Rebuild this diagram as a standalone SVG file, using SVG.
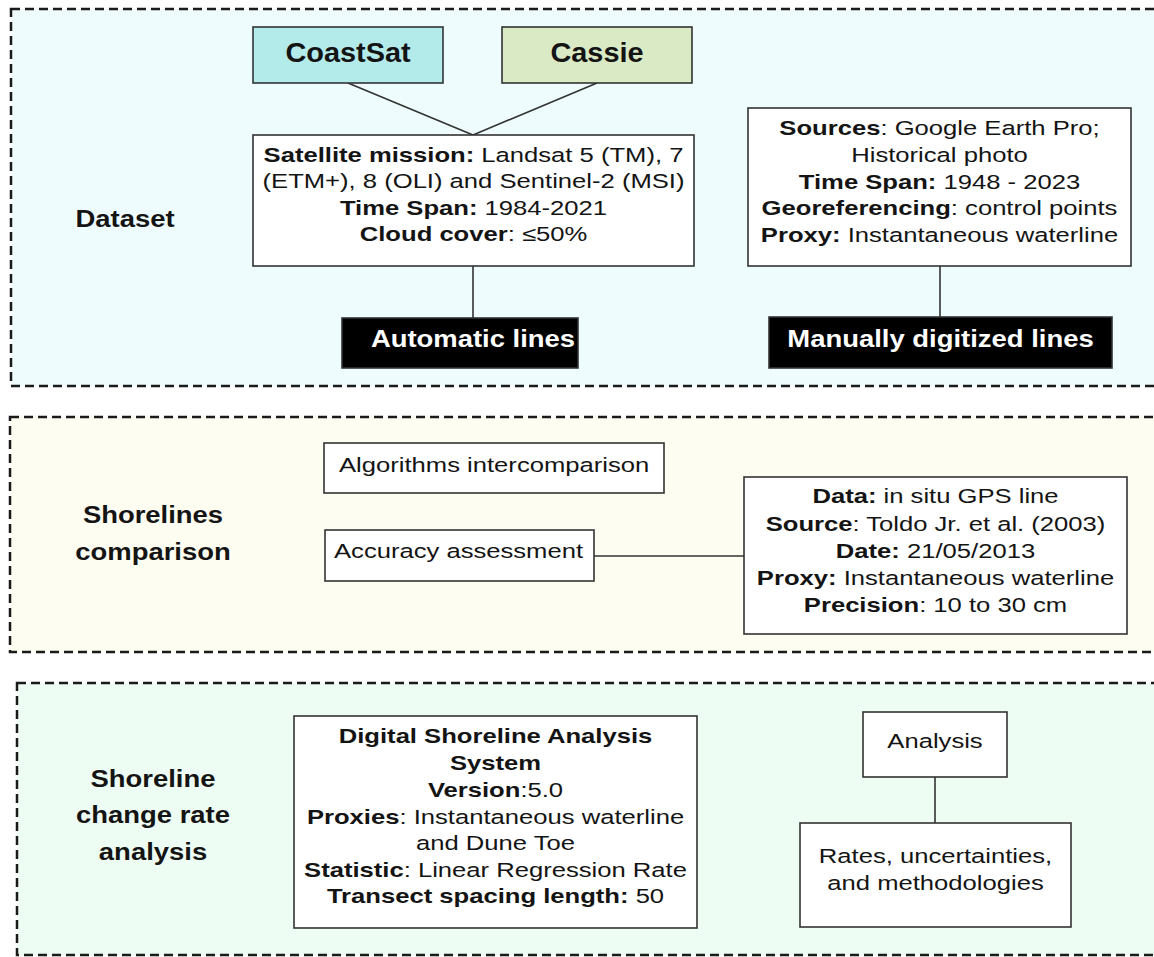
<svg xmlns="http://www.w3.org/2000/svg" width="1154" height="957" viewBox="0 0 1154 957">
  <style>
    .panel { stroke: #1a1a1a; stroke-width: 2.5; stroke-dasharray: 9 5; }
    .box { fill: #ffffff; stroke: #333333; stroke-width: 1.6; }
    .dark { fill: #000000; stroke: #333333; stroke-width: 1.6; }
    .link { stroke: #333333; stroke-width: 1.6; fill: none; }
    text { font-family: "Liberation Sans", Arial, sans-serif; fill: #141414; }
    .t { font-size: 20.5px; text-anchor: middle; }
    .tl { font-size: 20.5px; }
    .b { font-weight: bold; }
    .lab { font-size: 24.5px; font-weight: bold; text-anchor: middle; }
    .tool { font-size: 27px; font-weight: bold; text-anchor: middle; }
    .inv { font-size: 24.5px; font-weight: bold; text-anchor: middle; fill: #ffffff; }
  </style>

  <!-- section panels -->
  <g id="panel-dataset">
    <rect class="panel" x="11" y="9" width="1160" height="377" fill="#eefcfd"/>
    <g transform="translate(125 0) scale(1.12 1)"><text class="lab" x="0" y="227">Dataset</text></g>
  </g>
  <g id="panel-comparison">
    <rect class="panel" x="10" y="417" width="1160" height="235" fill="#fefdf1"/>
    <g transform="translate(153 0) scale(1.12 1)">
      <text class="lab" x="0" y="523">Shorelines</text>
      <text class="lab" x="0" y="560">comparison</text>
    </g>
  </g>
  <g id="panel-change-rate">
    <rect class="panel" x="17" y="683" width="1160" height="272" fill="#eefdf3"/>
    <g transform="translate(153 0) scale(1.12 1)">
      <text class="lab" x="0" y="787">Shoreline</text>
      <text class="lab" x="0" y="823">change rate</text>
      <text class="lab" x="0" y="860">analysis</text>
    </g>
  </g>

  <!-- connectors -->
  <g id="connectors">
    <line class="link" x1="348" y1="83" x2="473" y2="135"/>
    <line class="link" x1="597" y1="83" x2="473" y2="135"/>
    <line class="link" x1="473" y1="266" x2="473" y2="318"/>
    <line class="link" x1="940" y1="266" x2="940" y2="317"/>
    <line class="link" x1="594" y1="556" x2="744" y2="556"/>
    <line class="link" x1="935" y1="777" x2="935" y2="823"/>
  </g>

  <!-- dataset nodes -->
  <g id="coastsat">
    <rect x="253" y="27" width="190" height="56" fill="#b3ebeb" stroke="#333333" stroke-width="1.6"/>
    <g transform="translate(348 0) scale(1.07 1)"><text class="tool" x="0" y="62">CoastSat</text></g>
  </g>
  <g id="cassie">
    <rect x="502" y="27" width="190" height="56" fill="#d9eac5" stroke="#333333" stroke-width="1.6"/>
    <g transform="translate(597 0) scale(1.07 1)"><text class="tool" x="0" y="62">Cassie</text></g>
  </g>
  <g id="satellite-info">
    <rect class="box" x="253" y="135" width="441" height="131"/>
    <g transform="translate(473.5 0) scale(1.25 1)">
      <text class="t" x="0" y="162"><tspan class="b">Satellite mission:</tspan> Landsat 5 (TM), 7</text>
      <text class="t" x="0" y="188.5">(ETM+), 8 (OLI) and Sentinel-2 (MSI)</text>
      <text class="t" x="0" y="215"><tspan class="b">Time Span:</tspan> 1984-2021</text>
      <text class="t" x="0" y="241.5"><tspan class="b">Cloud cover</tspan>: ≤50%</text>
    </g>
  </g>
  <g id="automatic-lines">
    <rect class="dark" x="342" y="318" width="236" height="50"/>
    <g transform="translate(473 0) scale(1.12 1)"><text class="inv" x="0" y="347">Automatic lines</text></g>
  </g>
  <g id="manual-info">
    <rect class="box" x="748" y="108" width="383" height="158"/>
    <g transform="translate(939.5 0) scale(1.25 1)">
      <text class="t" x="0" y="135"><tspan class="b">Sources</tspan>: Google Earth Pro;</text>
      <text class="t" x="0" y="162">Historical photo</text>
      <text class="t" x="0" y="189"><tspan class="b">Time Span:</tspan> 1948 - 2023</text>
      <text class="t" x="0" y="215"><tspan class="b">Georeferencing</tspan>: control points</text>
      <text class="t" x="0" y="242"><tspan class="b">Proxy:</tspan> Instantaneous waterline</text>
    </g>
  </g>
  <g id="manual-lines">
    <rect class="dark" x="769" y="317" width="343" height="51"/>
    <g transform="translate(940.5 0) scale(1.12 1)"><text class="inv" x="0" y="347">Manually digitized lines</text></g>
  </g>

  <!-- comparison nodes -->
  <g id="algorithms">
    <rect class="box" x="324" y="443" width="340" height="50"/>
    <g transform="translate(339 0) scale(1.25 1)"><text class="tl" x="0" y="472">Algorithms intercomparison</text></g>
  </g>
  <g id="accuracy">
    <rect class="box" x="325" y="530" width="269" height="51"/>
    <g transform="translate(334 0) scale(1.25 1)"><text class="tl" x="0" y="558">Accuracy assessment</text></g>
  </g>
  <g id="gps-info">
    <rect class="box" x="744" y="477" width="383" height="157"/>
    <g transform="translate(935.5 0) scale(1.25 1)">
      <text class="t" x="0" y="503"><tspan class="b">Data:</tspan> in situ GPS line</text>
      <text class="t" x="0" y="531"><tspan class="b">Source</tspan>: Toldo Jr. et al. (2003)</text>
      <text class="t" x="0" y="558"><tspan class="b">Date:</tspan> 21/05/2013</text>
      <text class="t" x="0" y="585"><tspan class="b">Proxy:</tspan> Instantaneous waterline</text>
      <text class="t" x="0" y="612"><tspan class="b">Precision</tspan>: 10 to 30 cm</text>
    </g>
  </g>

  <!-- change rate nodes -->
  <g id="dsas">
    <rect class="box" x="294" y="716" width="403" height="212"/>
    <g transform="translate(495.5 0) scale(1.25 1)">
      <text class="t b" x="0" y="743">Digital Shoreline Analysis</text>
      <text class="t b" x="0" y="770">System</text>
      <text class="t" x="0" y="797"><tspan class="b">Version</tspan>:5.0</text>
      <text class="t" x="0" y="824"><tspan class="b">Proxies</tspan>: Instantaneous waterline</text>
      <text class="t" x="0" y="850">and Dune Toe</text>
      <text class="t" x="0" y="877"><tspan class="b">Statistic</tspan>: Linear Regression Rate</text>
      <text class="t" x="0" y="903"><tspan class="b">Transect spacing length:</tspan> 50</text>
    </g>
  </g>
  <g id="analysis">
    <rect class="box" x="863" y="712" width="144" height="65"/>
    <g transform="translate(935 0) scale(1.25 1)"><text class="t" x="0" y="748">Analysis</text></g>
  </g>
  <g id="rates">
    <rect class="box" x="800" y="823" width="271" height="104"/>
    <g transform="translate(935.5 0) scale(1.25 1)">
      <text class="t" x="0" y="863">Rates, uncertainties,</text>
      <text class="t" x="0" y="890">and methodologies</text>
    </g>
  </g>
</svg>
